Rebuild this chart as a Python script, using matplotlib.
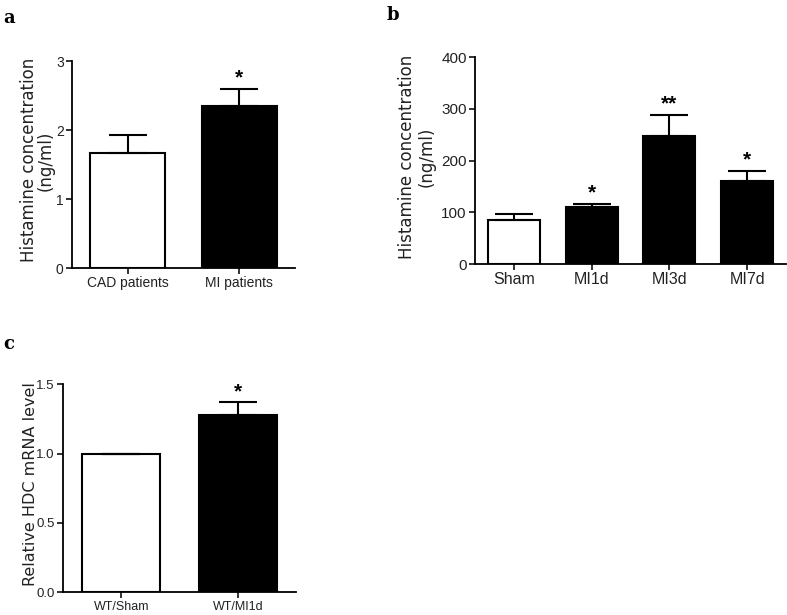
import matplotlib
matplotlib.use("Agg")
import matplotlib.pyplot as plt
from matplotlib import font_manager
import numpy as np

# ---- data ----
a_groups = ["CAD patients", "MI patients"]
a_means = [1.67, 2.35]
a_errs = [0.26, 0.25]
a_stars = ["", "*"]

b_groups = ["Sham", "MI1d", "MI3d", "MI7d"]
b_means = [86, 110, 248, 160]
b_errs = [10, 6, 40, 20]
b_stars = ["", "*", "**", "*"]

c_groups = ["WT/Sham", "WT/MI1d"]
c_means = [1.0, 1.28]
c_errs = [0.0, 0.09]
c_stars = ["", "*"]

names = {f.name for f in font_manager.fontManager.ttflist}
narrow = "Liberation Sans Narrow" if "Liberation Sans Narrow" in names else "Liberation Sans"
plt.rcParams["font.family"] = ["Liberation Sans", "DejaVu Sans"]


def panel(ax, groups, means, errs, stars, ylim, yticks, yticklabels, ylabel,
          tickfont, xfs, yfs, labfs, lsp, labx, star_off, star_fs):
    x = np.arange(len(groups))
    colors = ["white"] + ["black"] * (len(groups) - 1)
    ax.bar(x, means, width=0.67, color=colors, edgecolor="black", linewidth=1.5, zorder=2)
    ax.errorbar(x, means, yerr=[np.zeros(len(x)), errs], fmt="none", ecolor="black",
                elinewidth=1.5, capsize=14, capthick=1.5, zorder=3)
    for xi, m, e, s in zip(x, means, errs, stars):
        if s:
            ax.text(xi, m + e + star_off, s, ha="center", va="bottom",
                    fontsize=star_fs, fontweight="bold")
    ax.set_xlim(-0.5, len(groups) - 0.5)
    ax.set_ylim(*ylim)
    ax.set_yticks(yticks)
    ax.set_yticklabels(yticklabels, family=tickfont, fontsize=yfs)
    ax.set_xticks(x)
    ax.set_xticklabels(groups, family=tickfont, fontsize=xfs)
    ax.set_ylabel(ylabel, fontsize=labfs, linespacing=lsp, family="DejaVu Sans",
                  color="#222222")
    ax.yaxis.label.set_va("center")
    ax.yaxis.set_label_coords(labx, 0.52)
    for s in ["top", "right"]:
        ax.spines[s].set_visible(False)
    for s in ["left", "bottom"]:
        ax.spines[s].set_linewidth(1.3)
    ax.tick_params(direction="out", length=4, width=1.3, pad=2, colors="#222222")


fig = plt.figure(figsize=(7.87, 6.15), dpi=100)

ax_a = fig.add_axes([0.0915, 0.5642, 0.2835, 0.3366])
panel(ax_a, a_groups, a_means, a_errs, a_stars, (0, 3), [0, 1, 2, 3],
      ["0", "1", "2", "3"], "Histamine concentration\n(ng/ml)",
      narrow, 10, 10, 12, 0.9, -0.155, 0.02, 15)

ax_b = fig.add_axes([0.6036, 0.5707, 0.3951, 0.3361])
panel(ax_b, b_groups, b_means, b_errs, b_stars, (0, 400), [0, 100, 200, 300, 400],
      ["0", "100", "200", "300", "400"], "Histamine concentration\n(ng/ml)",
      "Liberation Sans", 11.5, 11, 12, 1.15, -0.188, 3, 15)

ax_c = fig.add_axes([0.080, 0.0369, 0.2962, 0.3382])
panel(ax_c, c_groups, c_means, c_errs, c_stars, (0, 1.5), [0, 0.5, 1.0, 1.5],
      ["0.0", "0.5", "1.0", "1.5"], "Relative HDC mRNA level",
      narrow, 9, 9.5, 11.5, 1.0, -0.14, 0.01, 15)

fig.text(0.004, 0.985, "a", fontsize=13, fontweight="bold", family="DejaVu Serif", va="top")
fig.text(0.491, 0.99, "b", fontsize=13, fontweight="bold", family="DejaVu Serif", va="top")
fig.text(0.004, 0.455, "c", fontsize=13, fontweight="bold", family="DejaVu Serif", va="top")

fig.savefig("out.png", dpi=100)
